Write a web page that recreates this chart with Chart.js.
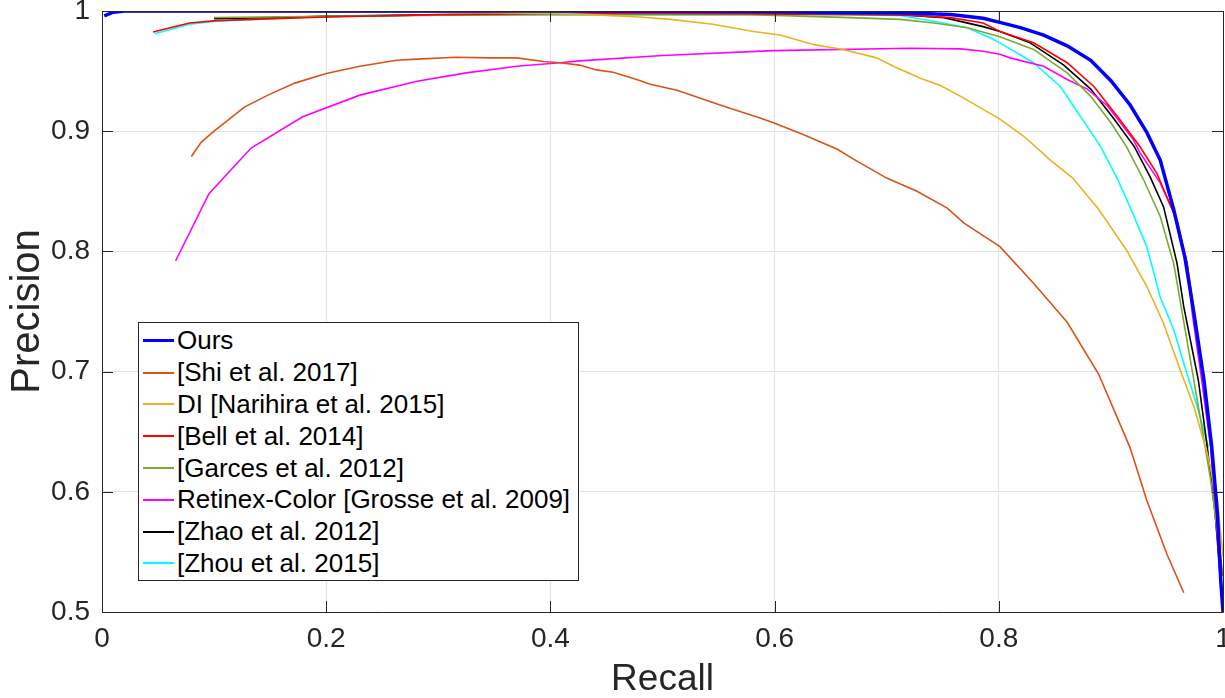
<!DOCTYPE html>
<html>
<head>
<meta charset="utf-8">
<script src="https://cdn.jsdelivr.net/npm/chart.js@4/dist/chart.umd.min.js"></script>
<style>
  html,body{margin:0;padding:0;background:#fff;}
  #wrap{position:relative;width:1225px;height:698px;}
  #legend{position:absolute;left:138px;top:322px;width:441px;height:259px;border:1px solid #262626;background:#fff;
    font-family:"Liberation Sans",Arial,sans-serif;font-size:26px;color:#000;box-sizing:border-box;padding-top:2px;}
  #legend .row{height:31.8px;display:flex;align-items:center;white-space:nowrap;}
  #legend .swatch{width:31px;margin-left:4px;margin-right:3px;}
</style>
</head>
<body>
<div id="wrap">
  <canvas id="pr" width="1225" height="698"></canvas>
  <div id="legend"></div>
</div>
<script>
/* Precision–recall curves, values */

const seriesNames = ['Ours','[Shi et al. 2017]','DI [Narihira et al. 2015]','[Bell et al. 2014]',
  '[Garces et al. 2012]','Retinex-Color [Grosse et al. 2009]','[Zhao et al. 2012]','[Zhou et al. 2015]'];
const seriesColors = ['#0000FF','#D95319','#EDB120','#FF0000','#77AC30','#FF00FF','#000000','#00FFFF'];
const seriesWidths = [3.5,1.6,1.6,1.6,1.6,1.6,1.6,1.6];

const xTicks = [0,0.2,0.4,0.6,0.8,1];
const yTicks = [0.5,0.6,0.7,0.8,0.9,1];

const oursRecall    = [0.002,0.01,0.02,0.2,0.4,0.6,0.65,0.712,0.757,0.786,0.801,0.82,0.840,0.861,0.882,0.900,0.917,0.932,0.944,0.956,0.966,0.974,0.983,0.990,0.995,0.998,1.0];
const oursPrecision = [0.996,0.999,1.0,1.0,1.0,0.9995,0.999,0.9985,0.997,0.994,0.9905,0.986,0.980,0.971,0.959,0.942,0.922,0.899,0.876,0.835,0.795,0.749,0.693,0.637,0.582,0.526,0.5];

const shiRecall    = [0.0797,0.0886,0.100,0.127,0.148,0.172,0.200,0.230,0.263,0.281,0.316,0.346,0.370,0.394,0.4085,0.426,0.441,0.456,0.477,0.489,0.513,0.554,0.587,0.599,0.626,0.656,0.670,0.700,0.727,0.754,0.769,0.801,0.831,0.861,0.889,0.917,0.932,0.950,0.965];
const shiPrecision = [0.879,0.891,0.900,0.920,0.930,0.940,0.948,0.954,0.959,0.960,0.9615,0.961,0.961,0.958,0.957,0.955,0.951,0.949,0.943,0.939,0.934,0.921,0.911,0.907,0.897,0.885,0.877,0.861,0.850,0.836,0.8235,0.804,0.7735,0.741,0.698,0.637,0.593,0.548,0.516];

const diRecall    = [0.02,0.1,0.2,0.3,0.4,0.435,0.48,0.507,0.545,0.581,0.605,0.635,0.661,0.691,0.706,0.730,0.748,0.766,0.801,0.822,0.846,0.866,0.889,0.914,0.932,0.947,0.962,0.974,0.986,0.995,1.0];
const diPrecision = [0.9995,0.9995,0.999,0.999,0.998,0.997,0.995,0.993,0.989,0.983,0.980,0.972,0.968,0.961,0.954,0.944,0.938,0.929,0.910,0.896,0.876,0.861,0.835,0.801,0.771,0.740,0.701,0.671,0.632,0.593,0.546];

const bellRecall    = [0.0455,0.078,0.102,0.2,0.3,0.4,0.5,0.6,0.712,0.757,0.786,0.801,0.831,0.861,0.885,0.906,0.926,0.941,0.956,0.968,0.975,0.983,0.990,0.995,0.999];
const bellPrecision = [0.9826,0.990,0.992,0.995,0.997,0.998,0.998,0.9975,0.997,0.9945,0.990,0.983,0.9735,0.957,0.937,0.912,0.887,0.865,0.832,0.790,0.745,0.69,0.63,0.58,0.53];

const garcesRecall    = [0.1,0.2,0.3,0.4,0.5,0.578,0.668,0.712,0.742,0.772,0.801,0.831,0.861,0.882,0.900,0.914,0.929,0.944,0.956,0.974,0.989,0.996,1.0];
const garcesPrecision = [0.9946,0.9955,0.9965,0.997,0.997,0.997,0.9945,0.993,0.990,0.986,0.9785,0.968,0.9485,0.929,0.907,0.887,0.860,0.829,0.790,0.693,0.610,0.56,0.53];

const retinexRecall    = [0.0656,0.0954,0.133,0.179,0.230,0.281,0.325,0.370,0.4085,0.426,0.5,0.599,0.721,0.766,0.786,0.801,0.810,0.840,0.861,0.879,0.897,0.920,0.926,0.944,0.959,0.968,0.9725,0.981,0.989,0.993,0.998];
const retinexPrecision = [0.792,0.848,0.886,0.912,0.930,0.9415,0.9485,0.954,0.957,0.9585,0.963,0.967,0.969,0.9685,0.9665,0.964,0.961,0.954,0.943,0.935,0.921,0.893,0.882,0.857,0.826,0.790,0.749,0.693,0.637,0.582,0.532];

const zhaoRecall    = [0.1,0.2,0.3,0.4,0.5,0.6,0.712,0.751,0.786,0.801,0.828,0.858,0.882,0.903,0.921,0.935,0.947,0.959,0.965,0.978,0.986,0.993,0.998,1.0];
const zhaoPrecision = [0.9935,0.9955,0.9968,0.9975,0.998,0.998,0.997,0.9945,0.987,0.983,0.9735,0.955,0.935,0.910,0.887,0.862,0.837,0.790,0.754,0.693,0.637,0.582,0.524,0.5];

const zhouRecall    = [0.047,0.078,0.102,0.197,0.3,0.4,0.5,0.6,0.712,0.742,0.772,0.792,0.801,0.831,0.855,0.873,0.891,0.906,0.917,0.932,0.944,0.956,0.965,0.977,0.987];
const zhouPrecision = [0.981,0.989,0.9915,0.9957,0.997,0.997,0.997,0.997,0.9962,0.9915,0.986,0.9777,0.9735,0.957,0.937,0.912,0.887,0.860,0.837,0.804,0.762,0.735,0.707,0.671,0.637];

const recalls    = [oursRecall,shiRecall,diRecall,bellRecall,garcesRecall,retinexRecall,zhaoRecall,zhouRecall];
const precisions = [oursPrecision,shiPrecision,diPrecision,bellPrecision,garcesPrecision,retinexPrecision,zhaoPrecision,zhouPrecision];

const axisColor = '#262626';
const gridColor = '#e3e3e3';
const FONT = '"Liberation Sans", Arial, sans-serif';

const datasets = seriesNames.map((name,i)=>({
  label:name,
  data:recalls[i].map((r,j)=>({x:r, y:precisions[i][j]})),
  borderColor:seriesColors[i],
  borderWidth:seriesWidths[i],
  pointRadius:0,
  fill:false,
  tension:0
}));

// MATLAB-style box with inward ticks on all four sides
const boxTicks = {
  id:'boxTicks',
  afterDraw(chart){
    const {ctx, chartArea:a, scales:{x,y}} = chart;
    const len = 11;
    ctx.save();
    ctx.strokeStyle = axisColor;
    ctx.lineWidth = 1;
    ctx.beginPath();
    ctx.rect(Math.round(a.left)+0.5, Math.round(a.top)+0.5, Math.round(a.right-a.left), Math.round(a.bottom-a.top));
    xTicks.forEach(v=>{
      const px = Math.round(x.getPixelForValue(v))+0.5;
      ctx.moveTo(px, a.bottom); ctx.lineTo(px, a.bottom-len);
      ctx.moveTo(px, a.top); ctx.lineTo(px, a.top+len);
    });
    yTicks.forEach(v=>{
      const py = Math.round(y.getPixelForValue(v))+0.5;
      ctx.moveTo(a.left, py); ctx.lineTo(a.left+len, py);
      ctx.moveTo(a.right, py); ctx.lineTo(a.right-len, py);
    });
    ctx.stroke();
    ctx.restore();
  }
};

// drop label overhang so the plot box fills the canvas like the original
function noOverhang(s){
  s.paddingTop = 0; s.paddingBottom = 0; s.paddingLeft = 0; s.paddingRight = 0;
}

new Chart(document.getElementById('pr'), {
  type:'line',
  data:{datasets},
  options:{
    responsive:false,
    animation:false,
    layout:{padding:{top:11, right:2, left:0, bottom:0}},
    plugins:{legend:{display:false}, tooltip:{enabled:false}},
    scales:{
      x:{
        type:'linear', min:0, max:1,
        afterBuildTicks:s=>{ s.ticks = xTicks.map(v=>({value:v})); },
        afterFit:s=>{ s.height = 86; noOverhang(s); },
        grid:{color:gridColor, drawTicks:false},
        border:{display:false},
        ticks:{color:axisColor, font:{family:FONT, size:28}, padding:10, maxRotation:0,
          callback:v=>String(v)},
        title:{display:true, text:'Recall', color:axisColor, font:{family:FONT, size:37, lineHeight:1}, padding:{top:0,bottom:0}}
      },
      y:{
        type:'linear', min:0.5, max:1,
        afterBuildTicks:s=>{ s.ticks = yTicks.map(v=>({value:v})); },
        afterFit:s=>{ s.width = 102; noOverhang(s); },
        grid:{color:gridColor, drawTicks:false},
        border:{display:false},
        ticks:{color:axisColor, font:{family:FONT, size:28}, padding:12,
          callback:v=>String(+v.toFixed(1))},
        title:{display:true, text:'Precision', color:axisColor, font:{family:FONT, size:40}, padding:{top:4,bottom:0}}
      }
    }
  },
  plugins:[boxTicks]
});

// legend built from the same series arrays
document.getElementById('legend').innerHTML = seriesNames.map((n,i)=>
  `<div class="row"><span class="swatch" style="border-top:${i===0?3:2}px solid ${seriesColors[i]}"></span><span>${n}</span></div>`
).join('');
</script>
</body>
</html>
